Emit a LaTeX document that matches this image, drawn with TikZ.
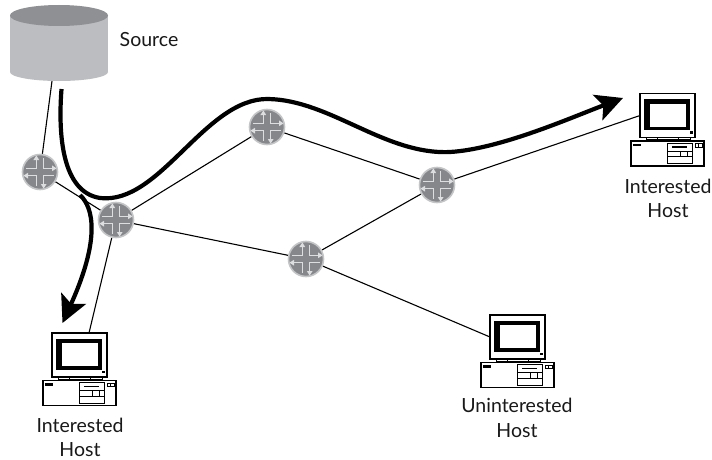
\documentclass[tikz,border=0pt]{standalone}
\usepackage{fontspec}
\setmainfont{Lato}
\usetikzlibrary{arrows.meta}
\definecolor{rfill}{HTML}{86878A}
\definecolor{rring}{HTML}{C4C5C7}
\definecolor{rarrow}{HTML}{DDDEDF}
\definecolor{cylbody}{HTML}{BCBDC0}
\definecolor{cyltop}{HTML}{8F9093}
\pgfdeclarelayer{links}
\pgfsetlayers{links,main}
\newcommand{\routerglyph}{%
  \begin{scope}[shift={(path picture bounding box.center)},line cap=butt]
    \foreach \sx/\sy in {1/1,-1/1,1/-1,-1/-1}{
      \draw[rarrow,line width=1.5pt] (\sx*3.6,\sy*14) -- (\sx*3.6,\sy*3.6) -- (\sx*14,\sy*3.6);
    }
    \fill[rarrow] (12,-6.6) -- (16.5,-3.6) -- (12,-0.8) -- cycle;
    \fill[rarrow] (-12,6.6) -- (-16.5,3.6) -- (-12,0.8) -- cycle;
    \fill[rarrow] (-6.6,-12) -- (-3.6,-16.5) -- (-0.8,-12) -- cycle;
    \fill[rarrow] (6.6,12) -- (3.6,16.5) -- (0.8,12) -- cycle;
  \end{scope}}
\tikzset{
  routerbox/.style={circle,minimum size=35pt,inner sep=0pt,fill=rfill,draw=rring,line width=1.6pt,path picture={\routerglyph}},
  monitorbox/.style={rectangle,minimum width=55pt,minimum height=44pt,inner sep=0pt,outer sep=0pt,draw=black,line width=1.2pt,fill=white},
  sourcedb/.style={rectangle,minimum width=98pt,minimum height=76pt,inner sep=0pt,outer sep=0pt},
  link/.style={draw=black,line width=1.1pt},
  flow/.style={draw=black,line width=4.2pt,line cap=butt,-{Stealth[length=27pt,width=27pt,inset=6pt]}},
  label/.style={font=\fontsize{19.5}{25}\selectfont,align=center,inner sep=0pt,text=black!90},
  pics/pcbody/.style={code={
    \draw[line width=1.1pt] (-9,47.5) rectangle (64,72.5);
    \draw[line width=1pt] (6,44) -- (6,47.5) (50,44) -- (50,47.5);
    \draw[line width=.8pt] (6,46) -- (50,46) (17,44) -- (17,46) (38,44) -- (38,46);
    \fill[black] (-6.7,50) rectangle (1,52.5);
    \draw[line width=.9pt] (27.5,49.5) rectangle (52.5,70);
    \fill[black] (32,52.5) rectangle (47,54);
    \draw[line width=.8pt] (27.5,57.5) -- (52.5,57.5) (27.5,63) -- (52.5,63) (40,57.5) rectangle (47,63);
    \draw[line width=.7pt] (55,50) rectangle (62,53.5) (58.5,50) -- (58.5,53.5);
    \fill[black] (4.3,5.7) rectangle (49.5,36.7);
    \fill[white] (9.5,10.2) rectangle (46,33.3);
    \fill[black] (50,37.5) rectangle (53,40);
  }}
}
\begin{document}
\begin{tikzpicture}[x=1pt,y=-1pt]
\useasboundingbox (0,0) rectangle (712,460);

% source cylinder
\fill[cylbody] (10,16) rectangle (108,72);
\fill[cylbody] (59,72) ellipse [x radius=49,y radius=9];
\fill[cyltop] (59,15.5) ellipse [x radius=49,y radius=10.5];
\node[sourcedb] (source) at (59,43) {};
\node[label,anchor=west] (sourcelabel) at (119.5,40) {Source};

\node[monitorbox] (host1) at (79.5,355) {};
\node[monitorbox] (host2) at (667.5,115.5) {};
\node[monitorbox] (host3) at (517.5,337) {};

\node[routerbox] (r1) at (40,172) {};
\node[routerbox] (r2) at (116,220) {};
\node[routerbox] (r3) at (267,127) {};
\node[routerbox] (r4) at (437,185) {};
\node[routerbox] (r5) at (306,259) {};

\coordinate (srcfoot) at ([xshift=-7pt]source.south);
\coordinate (h1top) at (89,333);
\begin{pgfonlayer}{links}
\fill[white] (0,0) rectangle (712,460);
\draw[link] (srcfoot) -- (r1);
\draw[link] (r1) -- (r2);
\draw[link] (r2) -- (r3);
\draw[link] (r2) -- (r5);
\draw[link] (r2) -- (h1top);
\draw[link] (r3) -- (r4);
\draw[link] (r5) -- (r4);
\draw[link] (r4) -- (host2.west);
\draw[link] (r5) -- (host3.west);
\end{pgfonlayer}

\pic at (52,333) {pcbody};
\pic at (640,93.5) {pcbody};
\pic at (490,315) {pcbody};

\coordinate (fstart) at (61.5,89);
\coordinate (ftip1) at (623,98);
\coordinate (ftip2) at (62.5,323);
\coordinate (fsplit) at (80,195);
\draw[flow] (fstart) .. controls (58,135) and (62,192) .. (100,198)
  .. controls (160,205) and (205,98) .. (268,99)
  .. controls (330,100) and (385,155) .. (450,152)
  .. controls (500,149) and (570,118) .. (ftip1);
\draw[flow] (fsplit) .. controls (94,208) and (100,240) .. (ftip2);

\node[label] (h1a) at (80,425) {Interested};
\node[label] (h1b) at (80,450) {Host};
\node[label] (h2a) at (668,186) {Interested};
\node[label] (h2b) at (668,211) {Host};
\node[label] (h3a) at (517,405) {Uninterested};
\node[label] (h3b) at (517,431) {Host};
\end{tikzpicture}
\end{document}
